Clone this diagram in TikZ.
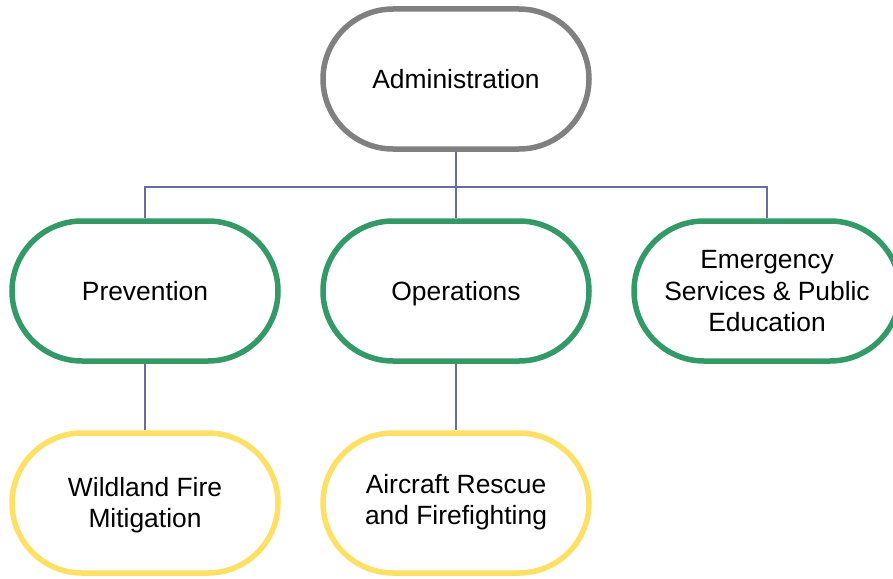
\documentclass[tikz,border=0pt]{standalone}
\usepackage{fontspec}
\setmainfont{Liberation Sans}
\usetikzlibrary{backgrounds}
\definecolor{admgray}{HTML}{808080}
\definecolor{divgreen}{HTML}{339966}
\definecolor{unityellow}{HTML}{FFE066}
\definecolor{linkline}{HTML}{6B6BA3}
% fixed line height and depth so every label sits at the same level
\newcommand\ls{\rule{0pt}{24.4pt}\rule[-6.2pt]{0pt}{6.2pt}}
\tikzset{
  pill/.style={draw, fill=white, line width=5.5pt, minimum width=266pt,
    minimum height=140pt, rounded corners=70pt, align=center,
    font=\fontsize{26.4}{30.5}\selectfont, inner sep=0pt},
  topbox/.style={pill, draw=admgray},
  divbox/.style={pill, draw=divgreen},
  unitbox/.style={pill, draw=unityellow},
  link/.style={draw=linkline, line width=2pt}
}
\begin{document}
\begin{tikzpicture}[x=1pt,y=-1pt]
  \useasboundingbox (0,0) rectangle (893,578);
  \node[topbox]  (adm)  at (456,79)  {\ls Administration};
  \node[divbox]  (prev) at (145,291) {\ls Prevention};
  \node[divbox]  (ops)  at (456,291) {\ls Operations};
  \node[divbox]  (ems)  at (767,291) {\ls Emergency\\\ls Services \& Public\\\ls Education};
  \node[unitbox] (wild) at (145,503) {\ls Wildland Fire\\\ls Mitigation};
  \node[unitbox] (arff) at (456,503) {\strut Aircraft Rescue\\\strut and Firefighting};
  \coordinate (bus) at (456,187);
  \begin{scope}[on background layer]
    \draw[link] (adm.south) -- (bus);
    \draw[link] (bus) -| (prev.north);
    \draw[link] (bus) -- (ops.north);
    \draw[link] (bus) -| (ems.north);
    \draw[link] (prev.south) -- (wild.north);
    \draw[link] (ops.south) -- (arff.north);
  \end{scope}
\end{tikzpicture}
\end{document}
